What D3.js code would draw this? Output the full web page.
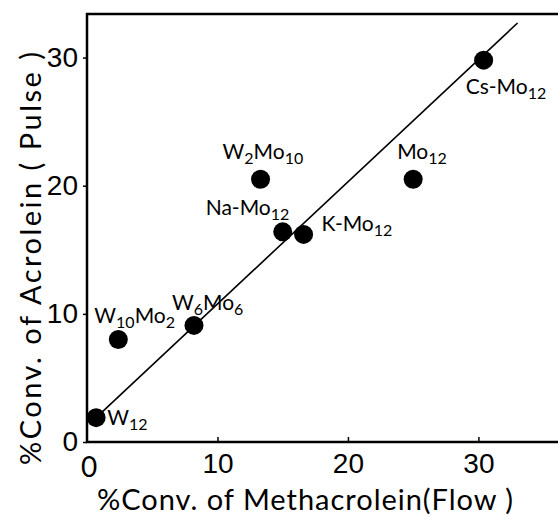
<!DOCTYPE html>
<html>
<head>
<meta charset="utf-8">
<script src="https://cdn.jsdelivr.net/npm/d3@7"></script>
<style>
  html, body { margin: 0; padding: 0; background: #fff; }
  svg { display: block; font-family: Lato, "DejaVu Sans", sans-serif; }
</style>
</head>
<body>
<svg id="chart" width="558" height="515"></svg>
<script>
// Catalizadores (etiqueta dividida en texto normal / subindice)
const catalysts = ["W12", "W10Mo2", "W6Mo6", "W2Mo10", "Na-Mo12", "K-Mo12", "Mo12", "Cs-Mo12"];
const labelParts = [
  [["W", 0], ["12", 1]],
  [["W", 0], ["10", 1], ["Mo", 0], ["2", 1]],
  [["W", 0], ["6", 1], ["Mo", 0], ["6", 1]],
  [["W", 0], ["2", 1], ["Mo", 0], ["10", 1]],
  [["Na-Mo", 0], ["12", 1]],
  [["K-Mo", 0], ["12", 1]],
  [["Mo", 0], ["12", 1]],
  [["Cs-Mo", 0], ["12", 1]]
];
// % conversion de metacroleina (flujo) y de acroleina (pulso)
const convFlow  = [0.7, 2.4, 8.2, 13.3, 15.0, 16.6, 25.0, 30.4];
const convPulse = [1.9, 8.0, 9.1, 20.5, 16.4, 16.2, 20.5, 29.8];

// Recta de ajuste (extremos)
const fitFlow  = [0.7, 33.0];
const fitPulse = [1.9, 32.7];

const xTicks = [0, 10, 20, 30];
const yTicks = [0, 10, 20, 30];

// Desplazamiento de las etiquetas respecto al punto (px)
const labelOffsets = [
  [11, 7], [-24, -16], [-22, -15], [-38, -20], [-77, -17], [18, -3], [-16, -20], [-18, 34]
];

const svg = d3.select("#chart");

const x = d3.scaleLinear().domain([0, 36.1]).range([87, 558]);
const y = d3.scaleLinear().domain([0, 33.4]).range([442, 14]);

// Marco
svg.append("path")
  .attr("d", `M${x.range()[1]},${y(33.4)} H${x(0)} V${y(0)} H${x.range()[1]}`)
  .attr("fill", "none")
  .attr("stroke", "#000")
  .attr("stroke-width", 2.5);

// Ejes
const xAxis = d3.axisBottom(x).tickValues(xTicks.filter(d => d > 0)).tickSize(-5).tickPadding(11).tickFormat(d3.format("d"));
svg.append("g")
  .attr("transform", `translate(0,${y(0)})`)
  .call(xAxis)
  .call(g => g.select(".domain").remove())
  .call(g => g.selectAll(".tick line").attr("stroke", "#000").attr("stroke-width", 1.5))
  .call(g => g.selectAll(".tick text").attr("fill", "#000").style("font-size", "28px").attr("font-family", null));

const yAxis = d3.axisLeft(y).tickValues(yTicks).tickSize(4).tickPadding(5).tickFormat(d3.format("d"));
svg.append("g")
  .attr("transform", `translate(${x(0)},0)`)
  .call(yAxis)
  .call(g => g.select(".domain").remove())
  .call(g => g.selectAll(".tick line").attr("stroke", "#000").attr("stroke-width", 1.5))
  .call(g => g.selectAll(".tick text").attr("fill", "#000").style("font-size", "28px").attr("font-family", null));

// "0" del eje x
svg.append("text")
  .attr("x", x(0) + 2)
  .attr("y", 477)
  .attr("text-anchor", "middle")
  .style("font-size", "28px")
  .text(xTicks[0]);

// Recta de ajuste
svg.append("line")
  .attr("x1", x(fitFlow[0])).attr("y1", y(fitPulse[0]))
  .attr("x2", x(fitFlow[1])).attr("y2", y(fitPulse[1]))
  .attr("stroke", "#000")
  .attr("stroke-width", 1.6);

// Puntos
const pts = catalysts.map((c, i) => ({ name: c, fx: convFlow[i], py: convPulse[i], parts: labelParts[i], off: labelOffsets[i] }));

svg.selectAll("circle.pt")
  .data(pts)
  .join("circle")
  .attr("class", "pt")
  .attr("cx", d => x(d.fx))
  .attr("cy", d => y(d.py))
  .attr("r", 9.5)
  .attr("fill", "#000");

// Etiquetas
const lab = svg.selectAll("text.lab")
  .data(pts)
  .join("text")
  .attr("class", "lab")
  .attr("x", d => x(d.fx) + d.off[0])
  .attr("y", d => y(d.py) + d.off[1])
  .style("font-size", "21px");

lab.each(function(d) {
  const t = d3.select(this);
  let prevSub = 0;
  d.parts.forEach(([s, sub]) => {
    t.append("tspan")
      .attr("dy", sub === prevSub ? 0 : (sub ? 5 : -5))
      .style("font-size", sub ? "16px" : "21px")
      .text(s);
    prevSub = sub;
  });
});

// Titulos de los ejes
svg.append("text")
  .attr("x", 97)
  .attr("y", 510)
  .attr("textLength", 416)
  .attr("lengthAdjust", "spacing")
  .style("font-size", "29px")
  .text("%Conv.  of  Methacrolein(Flow )");

svg.append("text")
  .attr("transform", "translate(41,465) rotate(-90)")
  .attr("textLength", 413)
  .attr("lengthAdjust", "spacing")
  .style("font-size", "29px")
  .text("%Conv.  of  Acrolein ( Pulse )");
</script>
</body>
</html>
